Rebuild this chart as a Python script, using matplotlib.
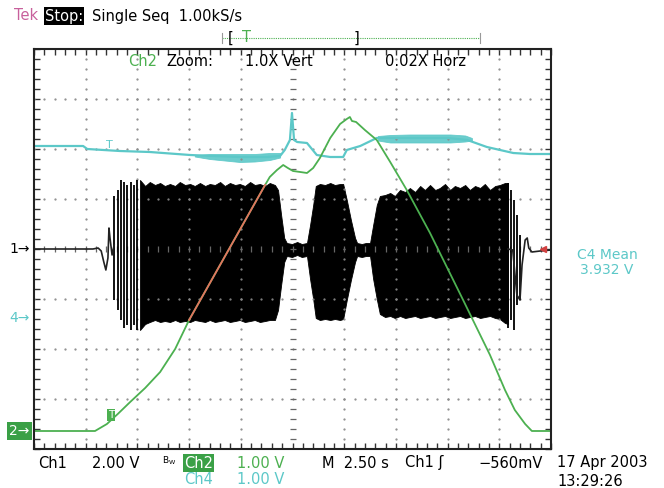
import numpy as np
import matplotlib.pyplot as plt
import matplotlib.transforms as mtransforms
from matplotlib.lines import Line2D

# all trace data in screen divisions: x 0..10 (2.50 s/div), y -4..4 from centre
ch1_pos = 0.0
ch2_pos = -3.64
ch4_pos = -1.38

# Ch1 (black) burst envelope
ch1_x = [2.05, 2.15, 2.24, 2.34, 2.44, 2.53, 2.63, 2.73, 2.82, 2.92, 3.02, 3.11, 3.21, 3.31,
         3.40, 3.50, 3.60, 3.69, 3.79, 3.89, 3.98, 4.08, 4.18, 4.27, 4.37, 4.47, 4.56, 4.66,
         4.72, 4.78, 4.84, 4.89, 4.99, 5.09, 5.18, 5.28, 5.34, 5.40, 5.45, 5.53, 5.63, 5.73,
         5.82, 5.92, 5.98, 6.05, 6.13, 6.21, 6.25, 6.34, 6.42, 6.50, 6.56, 6.63, 6.69, 6.79,
         6.89, 6.98, 7.08, 7.18, 7.27, 7.37, 7.47, 7.56, 7.66, 7.76, 7.85, 7.95, 8.05, 8.14,
         8.24, 8.34, 8.43, 8.53, 8.63, 8.72, 8.82, 8.92, 9.01, 9.11, 9.17]
ch1_hi = [1.38, 1.26, 1.34, 1.28, 1.32, 1.26, 1.30, 1.26, 1.34, 1.28, 1.30, 1.26, 1.32, 1.26,
          1.30, 1.28, 1.34, 1.26, 1.32, 1.28, 1.30, 1.26, 1.34, 1.28, 1.30, 1.26, 1.32, 1.28,
          1.18, 0.68, 0.22, 0.12, 0.10, 0.14, 0.10, 0.12, 0.48, 0.88, 1.26, 1.30, 1.28, 1.32,
          1.28, 1.30, 1.30, 0.98, 0.58, 0.22, 0.12, 0.10, 0.12, 0.12, 0.48, 0.88, 1.06, 1.08,
          1.12, 1.06, 1.18, 1.14, 1.22, 1.14, 1.26, 1.18, 1.28, 1.18, 1.22, 1.30, 1.18, 1.26,
          1.22, 1.28, 1.18, 1.26, 1.22, 1.30, 1.18, 1.26, 1.28, 1.32, 1.32]
ch1_lo = [-1.62, -1.50, -1.46, -1.42, -1.46, -1.44, -1.46, -1.42, -1.46, -1.44, -1.46, -1.42, -1.44, -1.46,
          -1.42, -1.46, -1.44, -1.42, -1.46, -1.44, -1.42, -1.46, -1.44, -1.42, -1.46, -1.44, -1.42, -1.42,
          -1.22, -0.72, -0.26, -0.14, -0.16, -0.12, -0.16, -0.14, -0.60, -1.00, -1.38, -1.42, -1.40, -1.42,
          -1.40, -1.42, -1.40, -1.02, -0.62, -0.26, -0.14, -0.16, -0.14, -0.14, -0.60, -1.00, -1.30, -1.36,
          -1.34, -1.38, -1.34, -1.38, -1.36, -1.34, -1.38, -1.36, -1.34, -1.38, -1.36, -1.34, -1.38, -1.36,
          -1.34, -1.38, -1.36, -1.34, -1.38, -1.36, -1.34, -1.38, -1.40, -1.48, -1.50]

# Ch1 quiet trace before and after the burst
ch1_pre_x = [0.0, 1.14, 1.24, 1.30, 1.35, 1.39, 1.43, 1.45, 1.47, 1.51, 1.55]
ch1_pre_y = [0.0, 0.0, 0.02, -0.04, -0.26, -0.42, -0.18, 0.42, 0.22, -0.12, 0.08]
ch1_post_x = [9.17, 9.26, 9.34, 9.40, 9.44, 9.50, 9.54, 9.57, 9.63, 9.79, 10.0]
ch1_post_y = [0.0, -0.02, -0.92, -1.02, -0.32, 0.18, 0.22, 0.02, -0.06, -0.04, -0.02]

# ringing spikes at the burst edges
spike_x = [1.55, 1.62, 1.68, 1.74, 1.80, 1.88, 1.93, 1.99, 9.17, 9.23, 9.28, 9.34, 9.40]
spike_hi = [1.06, 1.18, 1.38, 1.34, 1.28, 1.34, 1.28, 1.38, 1.32, 1.18, 0.98, 0.68, 0.28]
spike_lo = [-1.02, -1.22, -1.42, -1.58, -1.52, -1.62, -1.52, -1.62, -1.58, -1.42, -1.62, -1.12, -1.02]

# Ch2 (green)
ch2_x = [0.0, 1.18, 1.41, 1.62, 1.86, 2.15, 2.44, 2.73, 3.00, 4.47, 4.56, 4.70, 4.82, 4.91,
         5.01, 5.15, 5.28, 5.40, 5.53, 5.73, 5.92, 6.05, 6.11, 6.15, 6.23, 6.40, 6.63, 6.89,
         7.21, 7.66, 8.30, 8.82, 9.11, 9.30, 9.50, 9.63, 10.0]
ch2_y = [-3.64, -3.64, -3.50, -3.30, -3.06, -2.78, -2.46, -2.00, -1.42, 1.28, 1.44, 1.58, 1.68, 1.62,
         1.56, 1.54, 1.52, 1.62, 1.82, 2.22, 2.50, 2.60, 2.64, 2.56, 2.54, 2.38, 2.18, 1.74,
         1.18, 0.32, -1.02, -2.12, -2.82, -3.22, -3.50, -3.64, -3.64]

# Ch4 (cyan)
ch4_x = [0.0, 0.95, 1.03, 1.66, 2.24, 3.02, 3.46, 4.0, 4.5, 4.76, 4.85, 4.95, 4.99, 5.03, 5.09,
         5.28, 5.47, 5.73, 5.98, 6.05, 6.31, 6.63, 7.0, 7.5, 8.0, 8.38, 8.76, 9.27, 9.59, 10.0]
ch4_y = [2.06, 2.06, 2.00, 1.96, 1.94, 1.88, 1.86, 1.84, 1.84, 1.86, 1.98, 2.18, 2.72, 2.18, 2.14,
         2.12, 1.88, 1.84, 1.84, 1.98, 2.06, 2.22, 2.22, 2.22, 2.22, 2.18, 2.04, 1.92, 1.90, 1.90]
ch4_band1_x = [3.11, 3.40, 3.69, 3.98, 4.27, 4.56, 4.76]
ch4_band1_hi = [1.88, 1.90, 1.90, 1.90, 1.90, 1.92, 1.92]
ch4_band1_lo = [1.85, 1.80, 1.77, 1.74, 1.75, 1.78, 1.83]
ch4_band2_x = [6.65, 6.89, 7.27, 7.66, 8.05, 8.34, 8.47]
ch4_band2_hi = [2.26, 2.28, 2.29, 2.29, 2.29, 2.27, 2.22]
ch4_band2_lo = [2.17, 2.13, 2.13, 2.13, 2.13, 2.15, 2.17]

GREEN = '#4cb050'
CYAN = '#5cc8c8'
SALMON = '#e2735e'
PINK = '#c8609c'

W, H = 664, 488
fig = plt.figure(figsize=(W / 100, H / 100), dpi=100)
plt.rcParams['font.family'] = 'DejaVu Sans'


def fx(x):
    return x / W


def fy(y):
    return 1 - y / H


ax = fig.add_axes([fx(34), fy(449), 517 / W, 400 / H])
ax.set_xlim(0, 10)
ax.set_ylim(-4, 4)
ax.set_xticks(np.arange(0, 10.01, 0.2))
ax.set_yticks(np.arange(-4, 4.01, 0.2))
ax.tick_params(direction='in', length=4, width=1, top=True, right=True,
               labelbottom=False, labelleft=False, colors='#333333')
for s in ax.spines.values():
    s.set_linewidth(1.5)
    s.set_color('#222222')

# graticule dots
fine_x = np.arange(0, 10.01, 0.2)
fine_y = np.arange(-4, 4.01, 0.2)
for i in range(1, 10):
    if i != 5:
        ax.plot(np.full_like(fine_y, i), fine_y, ls='none', marker='.', ms=1.2, color='#8a8a8a')
for j in range(-3, 4):
    if j != 0:
        ax.plot(fine_x, np.full_like(fine_x, j), ls='none', marker='.', ms=1.2, color='#8a8a8a')
ax.plot(np.full_like(fine_y, 5), fine_y, ls='none', marker='_', ms=5, mew=0.9, color='#666666')
ax.plot(fine_x, np.zeros_like(fine_x), ls='none', marker='|', ms=5, mew=0.9, color='#666666')

# Ch1
ax.fill_between(ch1_x, ch1_lo, ch1_hi, color='black', lw=0.6)
ax.vlines(spike_x, spike_lo, spike_hi, color='black', lw=1.3)
ax.plot(ch1_pre_x, ch1_pre_y, color='#222222', lw=1.2)
ax.plot(ch1_post_x, ch1_post_y, color='#222222', lw=1.2)
ax.plot([9.85], [ch1_pos], marker='<', ms=5, color='#d04040')

# Ch4
ax.fill_between(ch4_band1_x, ch4_band1_lo, ch4_band1_hi, color=CYAN, alpha=0.9, lw=0.6)
ax.fill_between(ch4_band2_x, ch4_band2_lo, ch4_band2_hi, color=CYAN, alpha=0.9, lw=0.6)
ax.plot(ch4_x, ch4_y, color=CYAN, lw=1.6)
ax.text(1.45, 2.08, 'T', color=CYAN, fontsize=8, ha='center', va='center')

# Ch2, drawn salmon where it crosses the Ch1 burst
cx = np.array(ch2_x)
cy = np.array(ch2_y)
ax.plot(cx, cy, color=GREEN, lw=1.3)
over = (cx >= 3.0) & (cx <= 4.47)
ax.plot(cx[over], cy[over], color=SALMON, lw=1.3)
ax.text(1.49, -3.32, 'T', color='white', fontsize=7.5, ha='center', va='center',
        bbox=dict(boxstyle='square,pad=0.12', fc=GREEN, ec='none'))

# channel ground markers left of the graticule
trans = mtransforms.blended_transform_factory(ax.transAxes, ax.transData)
ax.text(-0.008, ch1_pos, '1\u2192', transform=trans, ha='right', va='center', fontsize=10)
ax.text(-0.008, ch4_pos, '4\u2192', transform=trans, ha='right', va='center', fontsize=10, color=CYAN)
ax.text(-0.008, ch2_pos, '2\u2192', transform=trans, ha='right', va='center', fontsize=10,
        color='white', bbox=dict(boxstyle='square,pad=0.15', fc='#3aa046', ec='none'))

# header
fs = 10.5
fig.text(fx(14), fy(16), 'Tek', color=PINK, fontsize=fs, va='center')
fig.text(fx(45), fy(16), 'Stop:', color='white', fontsize=fs, va='center',
         bbox=dict(boxstyle='square,pad=0.08', fc='black', ec='none'))
fig.text(fx(92), fy(16), 'Single Seq  1.00kS/s', fontsize=fs, va='center')
fig.add_artist(Line2D([fx(222), fx(480)], [fy(38), fy(38)], color=GREEN, lw=0.8, ls=(0, (1, 1))))
fig.add_artist(Line2D([fx(222), fx(222)], [fy(33), fy(43)], color='#999999', lw=0.8))
fig.add_artist(Line2D([fx(480), fx(480)], [fy(33), fy(43)], color='#999999', lw=0.8))
fig.text(fx(228), fy(38), '[', fontsize=fs, va='center')
fig.text(fx(242), fy(38), 'T', fontsize=fs, va='center', color=GREEN)
fig.text(fx(354), fy(38), ']', fontsize=fs, va='center')

fig.text(fx(128), fy(62), 'Ch2', fontsize=fs, va='center', color=GREEN)
fig.text(fx(166), fy(62), 'Zoom:', fontsize=fs, va='center')
fig.text(fx(245), fy(62), '1.0X Vert', fontsize=fs, va='center')
fig.text(fx(385), fy(62), '0.02X Horz', fontsize=fs, va='center')

# readouts
fig.text(fx(607), fy(255), 'C4 Mean', fontsize=10, color=CYAN, ha='center', va='center')
fig.text(fx(607), fy(270), '3.932 V', fontsize=10, color=CYAN, ha='center', va='center')

fig.text(fx(38), fy(463), 'Ch1', fontsize=fs, va='center')
fig.text(fx(92), fy(463), '2.00 V', fontsize=fs, va='center')
fig.text(fx(162), fy(461), r'$\mathregular{B_W}$', fontsize=6.5, va='center')
fig.text(fx(184), fy(463), 'Ch2', fontsize=fs, va='center', color='white',
         bbox=dict(boxstyle='square,pad=0.08', fc='#3aa046', ec='none'))
fig.text(fx(237), fy(463), '1.00 V', fontsize=fs, va='center', color=GREEN)
fig.text(fx(184), fy(479), 'Ch4', fontsize=fs, va='center', color=CYAN)
fig.text(fx(237), fy(479), '1.00 V', fontsize=fs, va='center', color=CYAN)
fig.text(fx(322), fy(463), 'M  2.50 s', fontsize=fs, va='center')
fig.text(fx(405), fy(463), 'Ch1 \u0283', fontsize=fs, va='center')
fig.text(fx(478), fy(463), '\u2212560mV', fontsize=fs, va='center')
fig.text(fx(557), fy(463), '17 Apr 2003', fontsize=fs, va='center')
fig.text(fx(557), fy(481), '13:29:26', fontsize=fs, va='center')

fig.savefig('out.png', dpi=100, facecolor='white')
